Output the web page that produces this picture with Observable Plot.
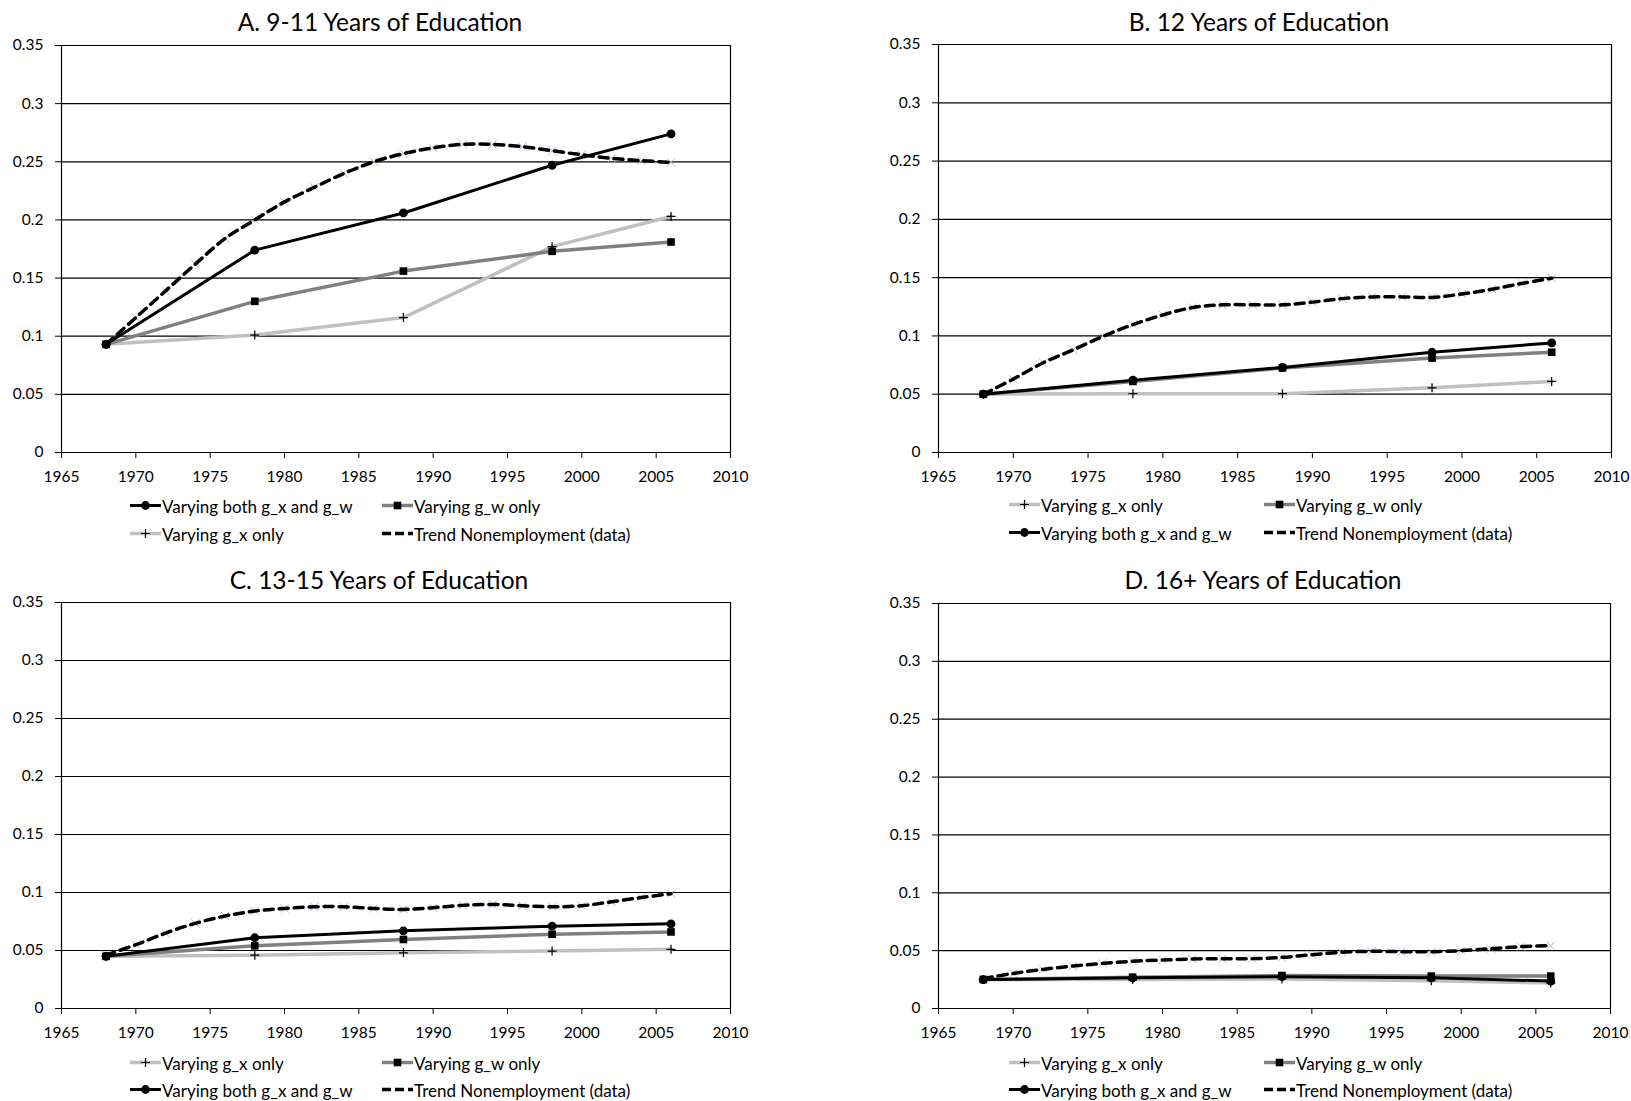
<!DOCTYPE html>
<html><head><meta charset="utf-8">
<script src="https://cdn.jsdelivr.net/npm/d3@7"></script>
<script src="https://cdn.jsdelivr.net/npm/@observablehq/plot@0.6"></script>
<style>
body{margin:0;background:#fff;font-family:Lato,sans-serif;color:#000;}
#root{position:relative;width:1631px;height:1101px;overflow:hidden;background:#fff;}
.panel{position:absolute;}
.panel svg{max-width:none !important;}
.title{position:absolute;font-size:24.5px;white-space:nowrap;transform:translate(-50%,-50%);}
.legsample{position:absolute;transform:translateY(-50%);}
.legtext{position:absolute;font-size:17px;white-space:nowrap;transform:translateY(-50%);line-height:1;}
</style></head><body><div id="root"></div>
<script>
// ---------- data ----------
const modelYears = [1968, 1978, 1988, 1998, 2006];
const trendYears = [1968,1970,1972,1974,1976,1978,1980,1982,1984,1986,1988,1990,1992,1994,1996,1998,2000,2002,2004,2006];
const xTickValues = [1965,1970,1975,1980,1985,1990,1995,2000,2005,2010];
const yTickValues = [0,0.05,0.1,0.15,0.2,0.25,0.3,0.35];
const yTickLabels = ["0","0.05","0.1","0.15","0.2","0.25","0.3","0.35"];

const panelTitles = ["A. 9-11 Years of Education","B. 12 Years of Education","C. 13-15 Years of Education","D. 16+ Years of Education"];
const seriesNames = {both:"Varying both g_x and g_w", gw:"Varying g_w only", gx:"Varying g_x only", trend:"Trend Nonemployment (data)"};

const aBoth  = [0.093, 0.174, 0.206, 0.247, 0.274];
const aGw    = [0.093, 0.130, 0.156, 0.173, 0.181];
const aGx    = [0.093, 0.101, 0.116, 0.177, 0.203];
const aTrend = [0.093,0.116,0.139,0.162,0.184,0.200,0.2155,0.228,0.240,0.250,0.257,0.262,0.265,0.265,0.263,0.2595,0.256,0.253,0.251,0.2495];

const bBoth  = [0.050, 0.062, 0.073, 0.086, 0.094];
const bGw    = [0.050, 0.061, 0.0725, 0.081, 0.086];
const bGx    = [0.050, 0.0505, 0.0505, 0.0555, 0.061];
const bTrend = [0.050,0.063,0.077,0.088,0.0997,0.1097,0.118,0.1244,0.1267,0.1267,0.1267,0.129,0.132,0.1335,0.1335,0.133,0.136,0.140,0.145,0.1495];

const cBoth  = [0.045, 0.061, 0.067, 0.071, 0.073];
const cGw    = [0.045, 0.054, 0.0595, 0.064, 0.066];
const cGx    = [0.045, 0.046, 0.048, 0.0495, 0.051];
const cTrend = [0.046,0.055,0.065,0.0734,0.0797,0.084,0.0863,0.0877,0.0877,0.0863,0.0854,0.0869,0.0889,0.0897,0.0886,0.0877,0.0886,0.092,0.0957,0.099];

const dBoth  = [0.025, 0.0265, 0.0275, 0.0265, 0.0237];
const dGw    = [0.025, 0.027, 0.0285, 0.028, 0.028];
const dGx    = [0.025, 0.025, 0.0255, 0.024, 0.022];
const dTrend = [0.026,0.0303,0.0338,0.0367,0.039,0.0408,0.0419,0.0428,0.0431,0.0431,0.0442,0.0465,0.0486,0.0494,0.0491,0.0491,0.050,0.0517,0.0535,0.0543];

// ---------- styles ----------
const styles = {
  both:  {stroke:"#000000", width:3,   dash:null},
  gw:    {stroke:"#808080", width:3.5, dash:null},
  gx:    {stroke:"#c0c0c0", width:3.5, dash:null},
  trend: {stroke:"#000000", width:3.5, dash:"9,6"}
};
const plusSym = {draw(ctx, size){const r=Math.sqrt(size/Math.PI); ctx.moveTo(-r,0); ctx.lineTo(r,0); ctx.moveTo(0,-r); ctx.lineTo(0,r);}};
const xSym = {draw(ctx, size){const r=Math.sqrt(size/Math.PI)*0.75; ctx.moveTo(-r,-r); ctx.lineTo(r,r); ctx.moveTo(-r,r); ctx.lineTo(r,-r);}};

const panels = [
  {title:panelTitles[0], both:aBoth, gw:aGw, gx:aGx, trend:aTrend, left:0,   top:0,   W:760, ml:61, mt:45, pw:669, ph:407, tx:380,  ty:21,
   legRows:[506,534], legCols:[[130,162],[382,414]], order:[["both","gw"],["gx","trend"]]},
  {title:panelTitles[1], both:bBoth, gw:bGw, gx:bGx, trend:bTrend, left:880, top:0,   W:751, ml:58, mt:44, pw:673, ph:408, tx:1259, ty:21,
   legRows:[505,533], legCols:[[1009,1041],[1264,1296]], order:[["gx","gw"],["both","trend"]]},
  {title:panelTitles[2], both:cBoth, gw:cGw, gx:cGx, trend:cTrend, left:0,   top:557, W:760, ml:61, mt:45, pw:669, ph:406, tx:379,  ty:579,
   legRows:[1063,1090], legCols:[[130,162],[382,414]], order:[["gx","gw"],["both","trend"]]},
  {title:panelTitles[3], both:dBoth, gw:dGw, gx:dGx, trend:dTrend, left:880, top:557, W:751, ml:58, mt:46, pw:672, ph:405, tx:1263, ty:579,
   legRows:[1063,1090], legCols:[[1009,1041],[1264,1296]], order:[["gx","gw"],["both","trend"]]}
];

const root = document.getElementById("root");

function makePlot(p){
  const W = p.W, H = 500;
  const mk = arr => modelYears.map((year,i)=>({year, v:arr[i]}));
  const both = mk(p.both), gw = mk(p.gw), gx = mk(p.gx);
  const trend = trendYears.map((year,i)=>({year, v:p.trend[i]}));
  return Plot.plot({
    width: W, height: H,
    marginLeft: p.ml, marginRight: W - p.ml - p.pw, marginTop: p.mt, marginBottom: H - p.mt - p.ph,
    style: {fontFamily:"Lato, sans-serif", fontSize:"15.5px", color:"#000", background:"transparent", overflow:"visible", maxWidth:"none"},
    x: {domain:[1965,2010], ticks:xTickValues, tickFormat:d=>String(d), tickSize:6, tickPadding:12, label:null},
    y: {domain:[0,0.35], ticks:yTickValues, tickFormat:d=>yTickLabels[yTickValues.findIndex(t=>Math.abs(t-d)<1e-9)], tickSize:6, tickPadding:12, label:null},
    marks: [
      Plot.ruleY(yTickValues.slice(1), {stroke:"#000", strokeWidth:1.2}),
      Plot.ruleX([2010], {stroke:"#000", strokeWidth:1.2}),
      Plot.ruleX([1965], {stroke:"#000", strokeWidth:1.2}),
      Plot.ruleY([0], {stroke:"#000", strokeWidth:1.2}),
      Plot.line(gx, {x:"year", y:"v", stroke:styles.gx.stroke, strokeWidth:styles.gx.width}),
      Plot.line(gw, {x:"year", y:"v", stroke:styles.gw.stroke, strokeWidth:styles.gw.width}),
      Plot.dot(trend, {x:"year", y:"v", symbol:xSym, r:5.5, stroke:"#b4b4d4", strokeWidth:1, fill:"none"}),
      Plot.line(trend, {x:"year", y:"v", stroke:styles.trend.stroke, strokeWidth:styles.trend.width, strokeDasharray:styles.trend.dash, curve:"catmull-rom"}),
      Plot.line(both, {x:"year", y:"v", stroke:styles.both.stroke, strokeWidth:styles.both.width}),
      Plot.dot(gx, {x:"year", y:"v", symbol:plusSym, r:4.5, stroke:"#000", strokeWidth:1.2, fill:"none"}),
      Plot.dot(gw, {x:"year", y:"v", symbol:"square", r:4.3, fill:"#000", stroke:"none"}),
      Plot.dot(both, {x:"year", y:"v", symbol:"circle", r:4.4, fill:"#000", stroke:"none"})
    ]
  });
}

function legendSample(key){
  const s = styles[key];
  const ns = "http://www.w3.org/2000/svg";
  const svg = document.createElementNS(ns,"svg");
  svg.setAttribute("width","32"); svg.setAttribute("height","14");
  const line = document.createElementNS(ns,"line");
  line.setAttribute("x1","0"); line.setAttribute("x2","31"); line.setAttribute("y1","7"); line.setAttribute("y2","7");
  line.setAttribute("stroke", s.stroke); line.setAttribute("stroke-width", s.width);
  if (s.dash) line.setAttribute("stroke-dasharray","9,4");
  svg.appendChild(line);
  if (key==="both"){ const c=document.createElementNS(ns,"circle"); c.setAttribute("cx","15.5"); c.setAttribute("cy","7"); c.setAttribute("r","4.4"); c.setAttribute("fill","#000"); svg.appendChild(c);}
  if (key==="gw"){ const r=document.createElementNS(ns,"rect"); r.setAttribute("x","11.7"); r.setAttribute("y","3.2"); r.setAttribute("width","7.6"); r.setAttribute("height","7.6"); r.setAttribute("fill","#000"); svg.appendChild(r);}
  if (key==="gx"){ const pth=document.createElementNS(ns,"path"); pth.setAttribute("d","M11 7H20M15.5 2.5V11.5"); pth.setAttribute("stroke","#000"); pth.setAttribute("stroke-width","1.2"); svg.appendChild(pth);}
  return svg;
}

for (const p of panels){
  const holder = document.createElement("div");
  holder.className = "panel";
  holder.style.left = p.left+"px"; holder.style.top = p.top+"px";
  holder.style.width = p.W+"px";
  holder.appendChild(makePlot(p));
  root.appendChild(holder);

  const t = document.createElement("div");
  t.className = "title"; t.textContent = p.title;
  t.style.left = p.tx+"px"; t.style.top = p.ty+"px";
  root.appendChild(t);

  p.order.forEach((row, ri) => {
    row.forEach((key, ci) => {
      const smp = document.createElement("div");
      smp.className = "legsample";
      smp.style.left = p.legCols[ci][0]+"px"; smp.style.top = p.legRows[ri]+"px";
      smp.appendChild(legendSample(key));
      root.appendChild(smp);
      const tx = document.createElement("div");
      tx.className = "legtext"; tx.textContent = seriesNames[key];
      tx.style.left = p.legCols[ci][1]+"px"; tx.style.top = p.legRows[ri]+"px";
      root.appendChild(tx);
    });
  });
}
</script>
</body></html>
